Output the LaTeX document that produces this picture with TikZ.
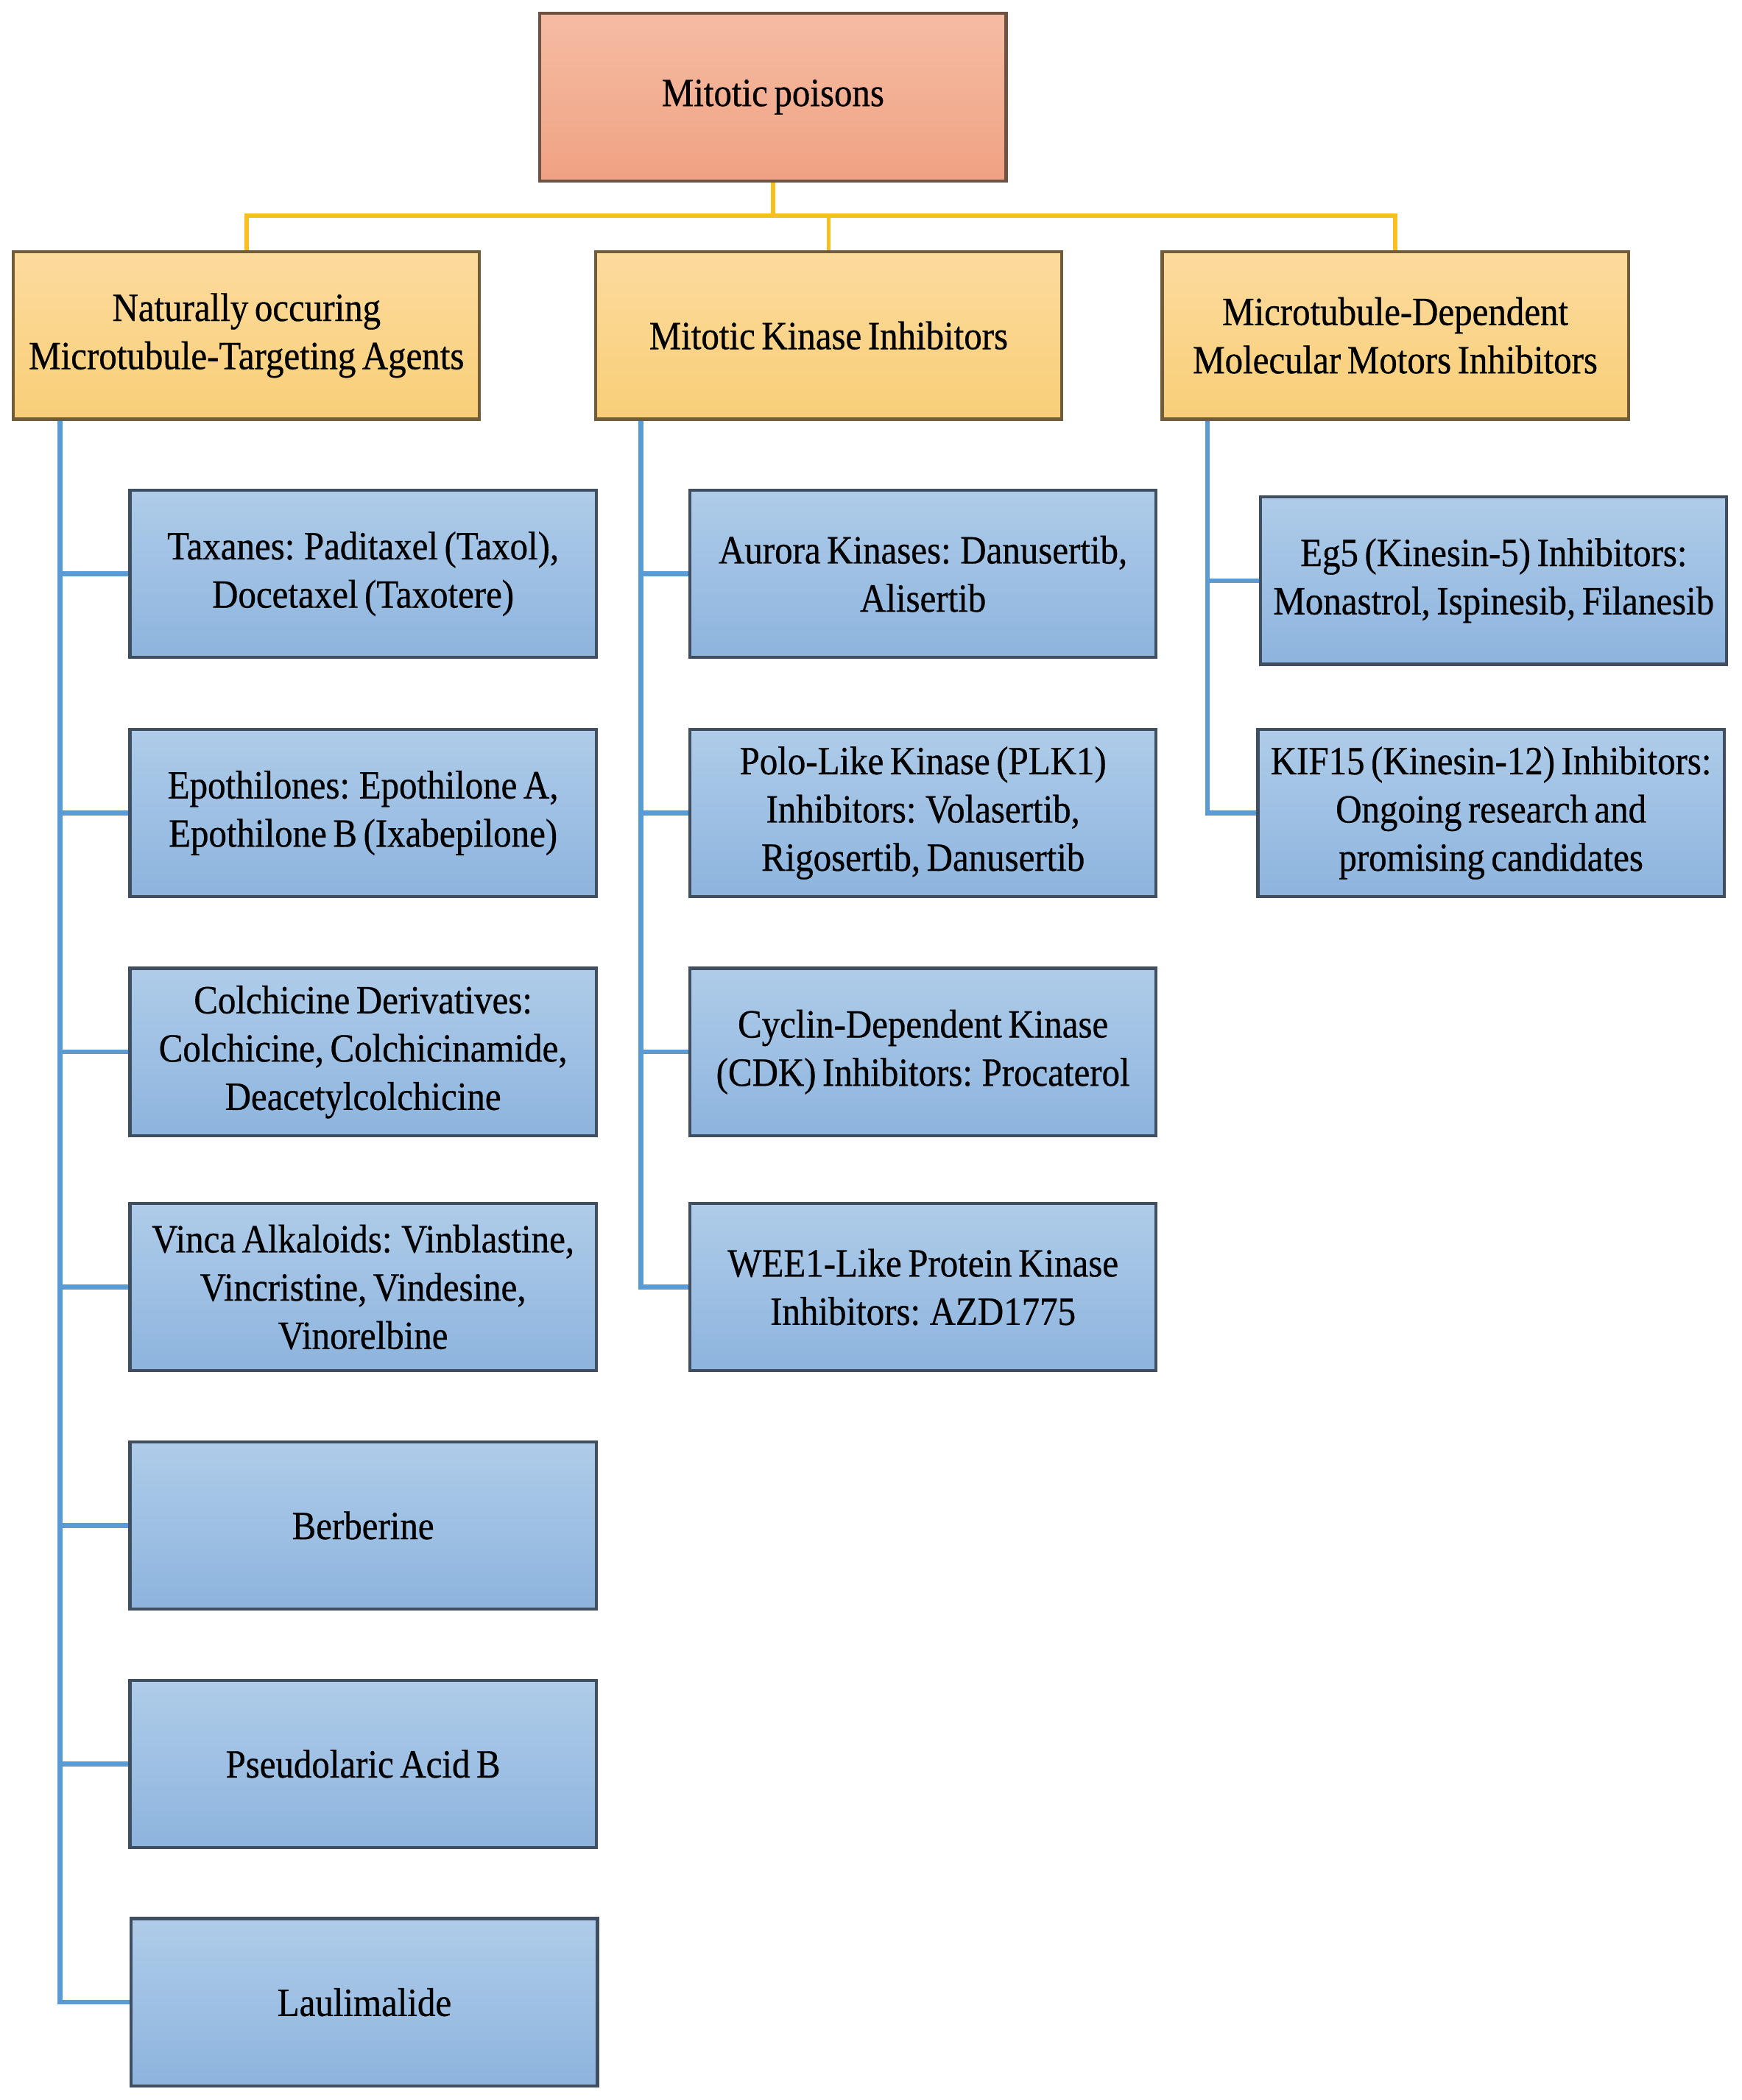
\documentclass[tikz,border=0pt]{standalone}
\usepackage{fontspec}
\setmainfont[FakeStretch=0.9, WordSpace=0.7, FakeBold=0.6]{Liberation Serif}
\usetikzlibrary{calc}
\definecolor{topA}{HTML}{F5BCA3}
\definecolor{topB}{HTML}{F0A283}
\definecolor{topE}{HTML}{6E5244}
\definecolor{midA}{HTML}{FCDB9E}
\definecolor{midB}{HTML}{F8CE77}
\definecolor{midE}{HTML}{705C38}
\definecolor{bluA}{HTML}{AFCCE9}
\definecolor{bluB}{HTML}{8DB4DE}
\definecolor{bluE}{HTML}{3F4F61}
\definecolor{ylw}{HTML}{F9BF1F}
\definecolor{bln}{HTML}{5B9BD5}
\tikzset{
  basebox/.style={rectangle, draw, line width=1.3pt, minimum width=69.6mm, minimum height=25mm,
    align=center, inner sep=1pt, font=\fontsize{17}{20.5}\selectfont, text=black},
  topbox/.style={basebox, draw=topE, top color=topA, bottom color=topB},
  midbox/.style={basebox, draw=midE, top color=midA, bottom color=midB},
  leafbox/.style={basebox, draw=bluE, top color=bluA, bottom color=bluB},
  ybus/.style={draw=ylw, line width=1.8pt},
  bbus/.style={draw=bln, line width=2pt},
}
\begin{document}
\begin{tikzpicture}[x=0.2mm, y=-0.2mm]
\useasboundingbox (0,0) rectangle (1300,1568);
% top
\node[topbox] (top) at (577,72.5) {Mitotic poisons};
% level 2
\node[midbox] (l1) at (184,250.5) {Naturally occuring\\Microtubule-Targeting Agents};
\node[midbox] (l2) at (618.5,250.5) {Mitotic Kinase Inhibitors};
\node[midbox] (l3) at (1041.5,250.5) {Microtubule-Dependent\\Molecular Motors Inhibitors};
% column 1
\node[leafbox] (c1) at (271,428.5) {Taxanes: Paditaxel (Taxol),\\Docetaxel (Taxotere)};
\node[leafbox] (c2) at (271,607) {Epothilones: Epothilone A,\\Epothilone B (Ixabepilone)};
\node[leafbox] (c3) at (271,785.5) {Colchicine Derivatives:\\Colchicine, Colchicinamide,\\Deacetylcolchicine};
\node[leafbox] (c4) at (271,961) {Vinca Alkaloids: Vinblastine,\\Vincristine, Vindesine,\\Vinorelbine};
\node[leafbox] (c5) at (271,1139) {Berberine};
\node[leafbox] (c6) at (271,1317) {Pseudolaric Acid B};
\node[leafbox] (c7) at (272,1495) {Laulimalide};
% column 2
\node[leafbox] (k1) at (689,428.5) {Aurora Kinases: Danusertib,\\Alisertib};
\node[leafbox] (k2) at (689,607) {Polo-Like Kinase (PLK1)\\Inhibitors: Volasertib,\\Rigosertib, Danusertib};
\node[leafbox] (k3) at (689,785.5) {Cyclin-Dependent Kinase\\(CDK) Inhibitors: Procaterol};
\node[leafbox] (k4) at (689,961) {WEE1-Like Protein Kinase\\Inhibitors: AZD1775};
% column 3
\node[leafbox] (m1) at (1115,433.5) {Eg5 (Kinesin-5) Inhibitors:\\Monastrol, Ispinesib, Filanesib};
\node[leafbox] (m2) at (1113,607) {KIF15 (Kinesin-12) Inhibitors:\\Ongoing research and\\promising candidates};
% yellow connectors
\draw[ybus] (top.south) -- ++(0,25) coordinate (bj);
\draw[ybus] (l1.north) |- (bj);
\draw[ybus] (l3.north) |- (bj);
\draw[ybus] (l2.north) -- (l2.north |- bj);
% blue connectors column 1
\coordinate (t1) at ($(l1.south west)+(36,0)$);
\draw[bbus] (t1) |- (c7.west);
\foreach \n in {c1,c2,c3,c4,c5,c6} \draw[bbus] (\n.west) -- (\n.west -| t1);
% column 2
\coordinate (t2) at ($(l2.south west)+(35,0)$);
\draw[bbus] (t2) |- (k4.west);
\foreach \n in {k1,k2,k3} \draw[bbus] (\n.west) -- (\n.west -| t2);
% column 3
\coordinate (t3) at ($(l3.south west)+(35,0)$);
\draw[bbus] (t3) |- (m2.west);
\draw[bbus] (m1.west) -- (m1.west -| t3);
\end{tikzpicture}
\end{document}
